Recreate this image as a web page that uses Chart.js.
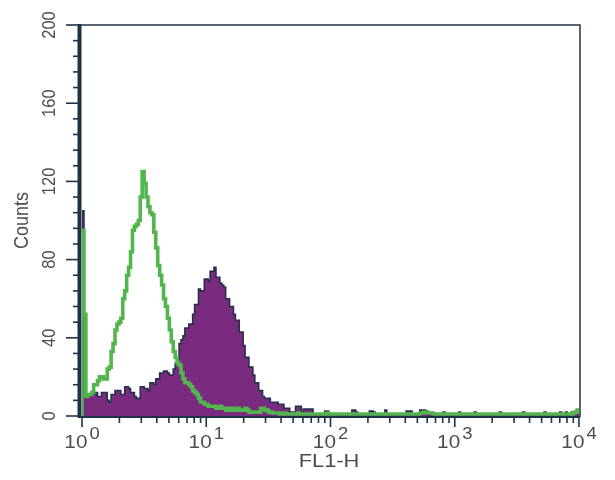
<!DOCTYPE html>
<html>
<head>
<meta charset="utf-8">
<title>FL1-H histogram</title>
<script src="https://cdn.jsdelivr.net/npm/chart.js@4.4.0/dist/chart.umd.min.js"></script>
<style>
    html, body { margin: 0; padding: 0; background: #ffffff; }
    #wrap { width: 615px; height: 480px; }
</style>
</head>
<body>
<div id="wrap"><canvas id="histo" width="615" height="480"></canvas></div>
<script>
// Histogram FL1-H, 64 channels per decade over 4 decades

const channelsPerDecade = 64;

// Control (green outline)
const greenCounts = [
    95, 52, 10, 11, 11, 12, 16, 16, 18, 20,
    20, 19, 19, 24, 25, 33, 37, 44, 47, 48,
    50, 60, 64, 72, 76, 84, 95, 97, 98, 100,
    112, 125, 119, 112, 107, 104, 103, 94, 86, 77,
    72, 67, 60, 56, 50, 44, 38, 33, 30, 27,
    26, 22, 19, 17, 17, 16, 15, 13, 12, 11,
    9, 7, 7, 6, 6, 5, 5, 5, 5, 4,
    4, 5, 4, 4, 3, 4, 3, 4, 3, 3,
    4, 3, 3, 3, 4, 3, 2, 2, 2, 2,
    2, 2, 4, 4, 3, 3, 2, 2, 1.5, 1.5,
    1.5, 1.5, 1, 1, 1.5, 1, 1, 1, 1, 1,
    1, 1.5, 1, 1, 1, 1, 1, 1, 1, 1,
    1, 1, 1, 1, 1, 1, 1.5, 1, 1, 1,
    1, 1, 1, 1, 1, 1, 1, 1, 1, 1,
    1, 1, 1, 1, 1, 1, 1, 1, 1, 1,
    1, 1, 1, 1, 1, 1, 1, 1, 1, 1,
    1, 1, 1, 1, 1, 1, 1, 1, 1, 1,
    1, 1, 1, 1, 1.5, 1.5, 2, 2, 1.5, 1.5,
    1.5, 1, 1, 1, 1, 1, 1, 1, 1, 1,
    1, 1, 1, 1, 1, 1, 1, 1, 1, 1,
    1, 1, 1, 1, 1, 1, 1, 1, 1, 1,
    1, 1, 1, 1, 1, 1, 1, 1, 1, 1,
    1, 1, 1, 1, 1, 1, 1, 1, 1, 1,
    1, 1, 1, 1, 1, 1, 1, 1, 1, 1,
    1, 1, 1, 1, 1, 1, 1, 1, 1, 1,
    1, 1, 1, 1.5, 2, 3, 3
];

// Stained sample (purple filled)
const purpleCounts = [
    105, 12, 10, 11, 11, 11, 12, 12, 10, 10,
    12, 12, 12, 8, 7, 11, 11, 13, 13, 13,
    11, 11, 15, 15, 14, 12, 12, 10, 9, 9,
    15, 15, 14, 14, 13, 17, 17, 16, 19, 19,
    22, 22, 23, 23, 22, 21, 21, 24, 27, 29,
    37, 39, 41, 45, 45, 47, 47, 52, 57, 57,
    65, 64, 64, 70, 70, 69, 74, 74, 76, 71,
    71, 68, 67, 66, 60, 60, 56, 56, 52, 49,
    49, 43, 43, 36, 30, 30, 25, 25, 21, 17,
    17, 13, 13, 10, 9, 9, 9, 7, 7, 7,
    7, 6, 6, 6, 4, 4, 4, 2, 2, 2,
    5, 5, 5, 2, 3.5, 3.5, 3.5, 3.5, 3.5, 1,
    1, 1, 1, 1, 1, 2.5, 2.5, 1, 1, 1,
    1, 1, 0.5, 1, 1, 1, 1, 1, 1, 3,
    3, 2, 1, 1, 1, 1, 1, 1, 2.5, 2.5,
    2, 1, 1, 1, 1, 1, 3, 1, 1, 1,
    1, 1, 1, 1, 1, 1, 1, 2.5, 2.5, 2.5,
    1, 1, 1, 1, 3, 3, 3, 2.5, 1, 1,
    1, 1, 1, 1, 1, 1, 2, 1, 1, 1,
    1, 1, 1, 1, 2, 1, 1, 1, 1, 1,
    1, 1, 2, 1, 1, 1, 1, 1, 1, 1,
    1, 1, 1, 1, 1, 2, 1, 1, 1, 1,
    1, 1, 1, 1, 1, 1, 1, 2, 1, 1,
    1, 1, 1, 1, 1, 1, 1, 1, 2, 1,
    1, 1, 1, 1, 1, 1, 2, 1, 1, 2,
    1, 1, 2, 1, 1, 1, 1
];

// Axis ticks
const xDecades = [1, 10, 100, 1000, 10000];
const xExponents = ['0', '1', '2', '3', '4'];
const xMinorFactors = [2, 3, 4, 5, 6, 7, 8, 9];
const yLabelTicks = [0, 40, 80, 120, 160, 200];
const yMinorTicks = [0, 8, 16, 24, 32, 40, 48, 56, 64, 72, 80, 88, 96, 104, 112, 120,
    128, 136, 144, 152, 160, 168, 176, 184, 192, 200];

const xTitle = 'FL1-H';
const yTitle = 'Counts';

// Warna
const axisColor = '#1e3346';
const textColor = '#4d4d4d';
const greenColor = '#52b54d';
const purpleFill = '#7a2b7f';
const purpleEdge = '#27304a';
const fontFamily = '"Liberation Sans", Arial, Helvetica, sans-serif';
const stretchX = 1.15; // teks di gambar asli sedikit melebar

function toPoints(counts) {
    // mulai dari baseline supaya sisi kiri histogram ikut tergambar
    const pts = [{ x: 1, y: 0 }];
    counts.forEach((c, i) => {
        pts.push({ x: Math.pow(10, i / channelsPerDecade), y: c });
    });
    return pts;
}

function drawText(ctx, text, x, y, font, align, baseline, angle) {
    ctx.save();
    ctx.translate(x, y);
    ctx.scale(stretchX, 1);
    if (angle) ctx.rotate(angle);
    ctx.font = font;
    ctx.textAlign = align;
    ctx.textBaseline = baseline;
    ctx.fillText(text, 0, 0);
    ctx.restore();
}

// Plugin untuk sumbu, tick dan label gaya cytometer
const axesPlugin = {
    id: 'cytoAxes',
    afterDatasetsDraw(chart) {
        const ctx = chart.ctx;
        const area = chart.chartArea;
        const xs = chart.scales.x;
        const ys = chart.scales.y;

        ctx.save();
        ctx.strokeStyle = axisColor;
        ctx.lineCap = 'butt';

        // frame atas dan kanan
        ctx.lineWidth = 1.5;
        ctx.beginPath();
        ctx.moveTo(area.left - 2, area.top);
        ctx.lineTo(area.right + 1, area.top);
        ctx.lineTo(area.right + 1, area.bottom + 1);
        ctx.stroke();

        // sumbu x
        ctx.lineWidth = 2;
        ctx.beginPath();
        ctx.moveTo(area.left - 2, area.bottom + 1);
        ctx.lineTo(area.right + 1, area.bottom + 1);
        ctx.stroke();

        // tick x
        ctx.lineWidth = 1.6;
        xDecades.forEach((d, k) => {
            const px = xs.getPixelForValue(d);
            ctx.beginPath();
            ctx.moveTo(px, area.bottom + 1);
            ctx.lineTo(px, area.bottom + 11);
            ctx.stroke();
            if (k < xDecades.length - 1) {
                xMinorFactors.forEach(f => {
                    const mx = xs.getPixelForValue(d * f);
                    ctx.beginPath();
                    ctx.moveTo(mx, area.bottom + 1);
                    ctx.lineTo(mx, area.bottom + 7);
                    ctx.stroke();
                });
            }
        });

        // tick y
        yMinorTicks.forEach(v => {
            const py = ys.getPixelForValue(v);
            const major = yLabelTicks.includes(v);
            ctx.beginPath();
            ctx.moveTo(area.left - 2, py);
            ctx.lineTo(area.left - (major ? 16 : 9), py);
            ctx.stroke();
        });

        // sumbu y tebal
        ctx.lineWidth = 4;
        ctx.beginPath();
        ctx.moveTo(area.left - 2.5, area.top - 1);
        ctx.lineTo(area.left - 2.5, area.bottom + 2);
        ctx.stroke();

        ctx.fillStyle = textColor;

        // label x: 10 pangkat n
        const baseFont = '18px ' + fontFamily;
        const expFont = '16px ' + fontFamily;
        xDecades.forEach((d, k) => {
            const px = xs.getPixelForValue(d);
            ctx.font = baseFont;
            const w10 = ctx.measureText('10').width * stretchX;
            ctx.font = expFont;
            const wExp = ctx.measureText(xExponents[k]).width * stretchX;
            const gap = 2;
            const start = px - (w10 + gap + wExp) / 2;
            drawText(ctx, '10', start, area.bottom + 32, baseFont, 'left', 'alphabetic');
            drawText(ctx, xExponents[k], start + w10 + gap, area.bottom + 23, expFont, 'left', 'alphabetic');
        });

        // label y (diputar)
        yLabelTicks.forEach(v => {
            const py = ys.getPixelForValue(v);
            drawText(ctx, String(v), 50, py, '16.5px ' + fontFamily, 'center', 'middle', -Math.PI / 2);
        });

        // judul sumbu
        drawText(ctx, xTitle, 329, area.bottom + 51, '19px ' + fontFamily, 'center', 'alphabetic');
        drawText(ctx, yTitle, 22, (area.top + area.bottom) / 2, '18px ' + fontFamily, 'center', 'middle', -Math.PI / 2);

        ctx.restore();
    }
};

const ctx = document.getElementById('histo').getContext('2d');

window.histoChart = new Chart(ctx, {
    type: 'line',
    data: {
        datasets: [
            {
                label: 'Control',
                data: toPoints(greenCounts),
                borderColor: greenColor,
                borderWidth: 3.6,
                stepped: true,
                fill: false,
                pointRadius: 0,
                borderJoinStyle: 'miter'
            },
            {
                label: 'FL1-H',
                data: toPoints(purpleCounts),
                borderColor: purpleEdge,
                backgroundColor: purpleFill,
                borderWidth: 1.6,
                stepped: true,
                fill: 'origin',
                pointRadius: 0,
                borderJoinStyle: 'miter'
            }
        ]
    },
    options: {
        responsive: false,
        animation: false,
        layout: {
            padding: { left: 82, right: 36, top: 25, bottom: 64 }
        },
        plugins: {
            legend: { display: false },
            tooltip: { enabled: false }
        },
        scales: {
            x: {
                type: 'logarithmic',
                min: 1,
                max: 10000,
                display: false
            },
            y: {
                type: 'linear',
                min: 0,
                max: 200,
                display: false
            }
        }
    },
    plugins: [axesPlugin]
});
</script>
</body>
</html>
